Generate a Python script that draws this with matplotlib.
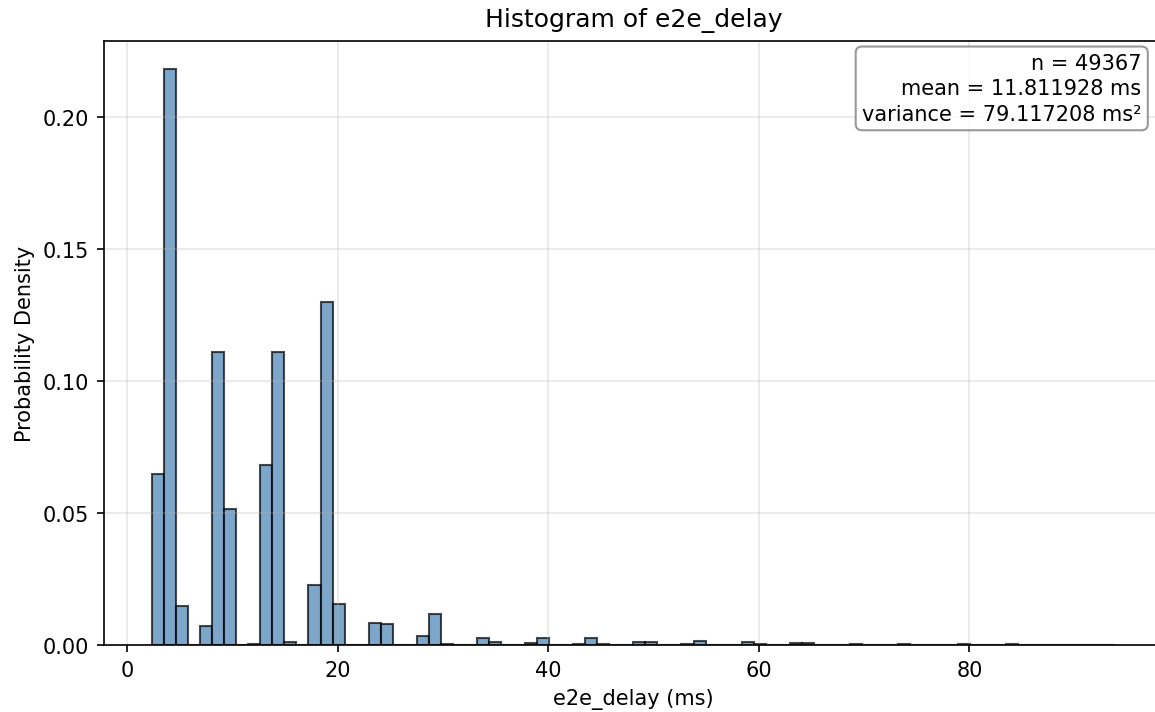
import numpy as np
import matplotlib
matplotlib.use("Agg")
import matplotlib.pyplot as plt

# 80 equal bins between the smallest and largest delay
edge_min = 2.38
edge_max = 93.78
n_bins = 80

# density of each bin
density = [
    0.0649, 0.2182, 0.0147, 0.0, 0.0071, 0.1111, 0.0515, 0.0, 0.0003, 0.0682,
    0.1111, 0.0012, 0.0, 0.0228, 0.1299, 0.0155, 0.0, 0.0, 0.0084, 0.0081,
    0.0, 0.0, 0.0033, 0.0117, 0.0002, 0.0, 0.0, 0.0026, 0.0013, 0.0,
    0.0, 0.0007, 0.0026, 0.0, 0.0, 0.0002, 0.0026, 0.0005, 0.0, 0.0,
    0.0012, 0.0012, 0.0, 0.0, 0.0002, 0.0014, 0.0, 0.0, 0.0, 0.0013,
    0.0002, 0.0, 0.0, 0.0008, 0.0008, 0.0, 0.0, 0.0, 0.0005, 0.0,
    0.0, 0.0, 0.0003, 0.0, 0.0, 0.0, 0.0, 0.0003, 0.0, 0.0,
    0.0, 0.0003, 0.0, 0.0, 0.0, 0.0, 0.0, 0.0, 0.0, 0.00002,
]

n_samples = 49367
mean_ms = 11.811928
variance_ms2 = 79.117208

edges = np.linspace(edge_min, edge_max, n_bins + 1)
centers = (edges[:-1] + edges[1:]) / 2

fig = plt.figure(figsize=(7.7, 4.7533), dpi=150)
ax = fig.add_axes([0.090, 0.094, 0.9167, 0.8475])

ax.hist(centers, bins=edges, weights=density, color="steelblue",
        edgecolor="black", alpha=0.7, linewidth=1.0)

ax.set_title("Histogram of e2e_delay", fontsize=12, pad=7)
ax.set_xlabel("e2e_delay (ms)", fontsize=10)
ax.set_ylabel("Probability Density", fontsize=10)
ax.grid(True, alpha=0.3)

stats = (f"n = {n_samples}\n"
         f"mean = {mean_ms:.6f} ms\n"
         f"variance = {variance_ms2:.6f} ms\u00b2")
ax.text(0.98, 0.98, stats, transform=ax.transAxes, ha="right", va="top",
        fontsize=10, multialignment="right", linespacing=1.35,
        bbox=dict(boxstyle="round", facecolor="white", alpha=0.8, edgecolor="gray"))

fig.savefig("out.png", dpi=150)
